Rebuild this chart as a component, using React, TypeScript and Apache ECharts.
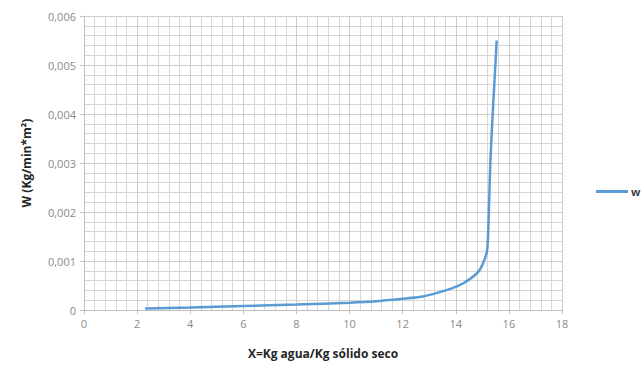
import React, { useEffect, useRef } from "react";
import * as echarts from "echarts";

const xValues = [2.3, 4, 6, 8, 10, 11, 12, 12.7, 13.3, 13.9, 14.3, 14.8, 15.0, 15.18, 15.24, 15.3, 15.38, 15.46, 15.54];
const wValues = [0.00003, 0.00005, 0.00008, 0.00011, 0.00015, 0.00018, 0.00023, 0.00027, 0.00035, 0.00045, 0.00055, 0.00075, 0.00092, 0.00122, 0.0019, 0.003, 0.0039, 0.0047, 0.0055];
const seriesName = "w";
const xTitle = "X=Kg agua/Kg sólido seco";
const yTitle = "W (Kg/min*m²)";

export default function App() {
  const ref = useRef<HTMLDivElement>(null);
  useEffect(() => {
    const chart = echarts.init(ref.current!, null, { renderer: "svg" });
    const font = "'Open Sans', 'Liberation Sans', sans-serif";
    const grid = { show: true, lineStyle: { color: "#cccccc", width: 1 } };
    chart.setOption({
      animation: false,
      textStyle: { fontFamily: font },
      grid: { left: 84, right: 81, top: 16, bottom: 57 },
      legend: {
        left: 591,
        top: 181,
        itemWidth: 32,
        itemHeight: 3,
        itemGap: 4,
        icon: "rect",
        textStyle: { color: "#404040", fontSize: 11, fontWeight: "bold", fontFamily: font, padding: [0, 0, 0, -2] },
        data: [seriesName],
      },
      xAxis: {
        type: "value",
        min: 0,
        max: 18,
        interval: 2,
        name: xTitle,
        nameLocation: "middle",
        nameGap: 37,
        nameTextStyle: { color: "#262626", fontWeight: "bold", fontSize: 12, fontFamily: font },
        axisLine: { show: true, lineStyle: { color: "#bfbfbf" } },
        axisTick: { show: true, length: 4, lineStyle: { color: "#bfbfbf" } },
        axisLabel: { color: "#8a8a8a", fontSize: 11, margin: 8 },
        splitLine: grid,
        minorTick: { show: true, splitNumber: 5, length: 0 },
        minorSplitLine: { show: true, lineStyle: { color: "#d6d6d6", width: 1 } },
      },
      yAxis: {
        type: "value",
        min: 0,
        max: 0.006,
        interval: 0.001,
        name: yTitle,
        nameLocation: "middle",
        nameGap: 52,
        nameRotate: 90,
        nameTextStyle: { color: "#262626", fontWeight: "bold", fontSize: 12, fontFamily: font },
        axisLine: { show: true, lineStyle: { color: "#bfbfbf" } },
        axisTick: { show: true, length: 4, lineStyle: { color: "#bfbfbf" } },
        axisLabel: {
          color: "#8a8a8a",
          fontSize: 11,
          margin: 8,
          formatter: (v: number) => (v === 0 ? "0" : v.toFixed(3).replace(".", ",")),
        },
        splitLine: grid,
        minorTick: { show: true, splitNumber: 5, length: 0 },
        minorSplitLine: { show: true, lineStyle: { color: "#d6d6d6", width: 1 } },
      },
      series: [
        {
          name: seriesName,
          type: "line",
          data: xValues.map((x, i) => [x, wValues[i]]),
          showSymbol: false,
          smooth: 0.2,
          lineStyle: { color: "#5b9bd5", width: 2.5 },
          itemStyle: { color: "#5b9bd5" },
        },
      ],
    });
    return () => chart.dispose();
  }, []);
  return <div ref={ref} style={{ width: 643, height: 367, position: "absolute", left: 0, top: 0 }} />;
}
